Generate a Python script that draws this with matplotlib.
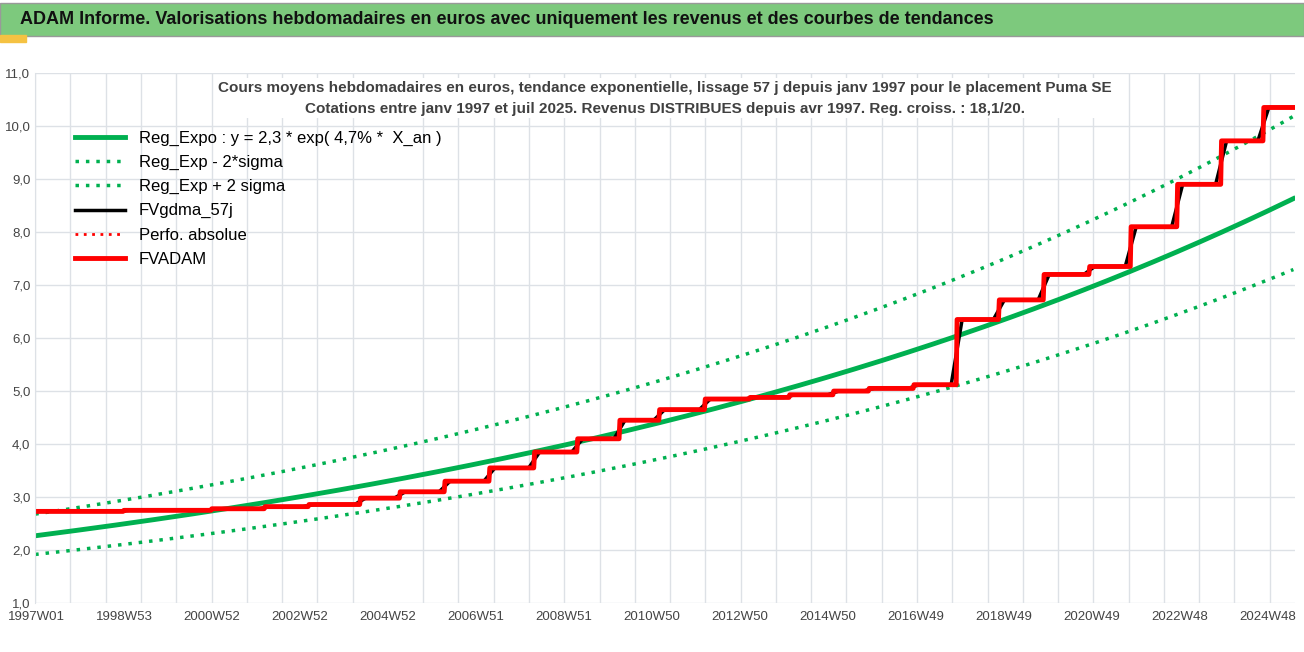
"""ADAM weekly valuation chart for Puma SE with exponential trend bands."""

import matplotlib.pyplot as plt
import numpy as np
from matplotlib import font_manager
from matplotlib.patches import Rectangle

# trend parameters (from legend, tuned to the drawn line) and sigma band factors
reg_a = 2.27
reg_rate = 0.0468
band_low = 0.845
band_high = 1.18

# FV ADAM step changes: (year of step, level after step)
step_years = [1997.0, 1999.0, 2001.0, 2002.2, 2003.2, 2004.36, 2005.27, 2006.29,
              2007.3, 2008.32, 2009.3, 2010.25, 2011.16, 2012.18, 2013.2, 2014.1,
              2015.1, 2015.9, 2016.93, 2017.9, 2018.86, 2019.88, 2020.9, 2021.85,
              2022.9, 2023.9, 2024.86]
step_levels = [2.73, 2.75, 2.78, 2.82, 2.86, 2.98, 3.1, 3.3,
               3.55, 3.85, 4.1, 4.45, 4.65, 4.85, 4.88, 4.93,
               5.0, 5.05, 5.12, 6.35, 6.72, 7.2, 7.35, 8.1,
               8.9, 9.72, 10.35]
end_year = 2025.55

tick_labels = ["1997W01", "1998W53", "2000W52", "2002W52", "2004W52", "2006W51",
               "2008W51", "2010W50", "2012W50", "2014W50", "2016W49", "2018W49",
               "2020W49", "2022W48", "2024W48"]

names = {f.name for f in font_manager.fontManager.ttflist}
narrow = "DejaVu Sans Condensed" if "DejaVu Sans Condensed" in names else "Liberation Sans"

weeks = np.arange(0, int((end_year - 1997) * 52.18) + 1)
years = 1997 + weeks / 52.18
t = years - 1997

reg = reg_a * np.exp(reg_rate * t)
fv_adam = np.array(step_levels)[np.searchsorted(step_years, years, side="right") - 1]
# smoothed curve, centred moving average
win = 13
half = win // 2
padded = np.concatenate([np.full(half, fv_adam[0]), fv_adam, np.full(half, fv_adam[-1])])
fv_gdma = np.convolve(padded, np.ones(win) / win, mode="valid")

fig = plt.figure(figsize=(13.04, 6.52), dpi=100)
fig.patches.append(Rectangle((0, 0.945), 1, 0.05, transform=fig.transFigure,
                             facecolor="#7dc97d", edgecolor="#999999", lw=1, zorder=0))
fig.patches.append(Rectangle((0, 0.935), 0.02, 0.012, transform=fig.transFigure,
                             color="#f5c242", zorder=0))
fig.text(0.015, 0.970, "ADAM Informe. Valorisations hebdomadaires en euros avec uniquement "
         "les revenus et des courbes de tendances", fontsize=13, fontweight="bold",
         va="center", family=narrow, color="#111111")

ax = fig.add_axes([0.027, 0.075, 0.966, 0.813])
ax.plot(years, reg, color="#00b050", lw=3.5, label="Reg_Expo : y = 2,3 * exp( 4,7% *  X_an )")
ax.plot(years, reg * band_low, color="#00b050", lw=2.5, ls=(0, (1, 2)), label="Reg_Exp - 2*sigma")
ax.plot(years, reg * band_high, color="#00b050", lw=2.5, ls=(0, (1, 2)), label="Reg_Exp + 2 sigma")
ax.plot(years, fv_gdma, color="black", lw=2.5, label="FVgdma_57j")
ax.plot([], [], color="red", lw=2, ls=(0, (1, 2)), label="Perfo. absolue")
ax.plot(years, fv_adam, color="#ff0000", lw=3.5, label="FVADAM")

ax.set_xlim(1997, end_year + 0.02)
ax.set_ylim(1, 11)
ax.set_yticks(np.arange(1, 12))
ax.set_yticklabels([f"{v:.1f}".replace(".", ",") for v in range(1, 12)])
ax.set_xticks(1997 + np.arange(len(tick_labels)) * 2 * 0.9975 + 0.02)
ax.set_xticklabels(tick_labels)
ax.set_xticks(np.arange(1997, end_year, 0.8), minor=True)
ax.tick_params(which="both", length=0, labelsize=9.5, colors="#444444")
ax.tick_params(axis="x", pad=6)
for lab in ax.get_xticklabels() + ax.get_yticklabels():
    lab.set_family(narrow)
ax.grid(True, which="minor", axis="x", color="#dde1e6", lw=1)
ax.grid(True, which="major", axis="y", color="#dde1e6", lw=1)
for s in ax.spines.values():
    s.set_visible(False)
ax.spines["left"].set_visible(True)
ax.spines["left"].set_color("#dde1e6")

ax.text(0.5, 0.985, "Cours moyens hebdomadaires en euros, tendance exponentielle, lissage 57 j "
        "depuis janv 1997 pour le placement Puma SE\nCotations entre janv 1997 et juil 2025. "
        "Revenus DISTRIBUES depuis avr 1997. Reg. croiss. : 18,1/20.",
        transform=ax.transAxes, ha="center", va="top", fontsize=11, fontweight="bold",
        family=narrow, color="#404040", linespacing=1.6,
        bbox=dict(facecolor="white", edgecolor="none", pad=2))
ax.legend(loc="upper left", bbox_to_anchor=(0.02, 0.92), frameon=False,
          handlelength=3, labelspacing=0.55, prop={"family": narrow, "size": 12})

fig.savefig("out.png", dpi=100)
